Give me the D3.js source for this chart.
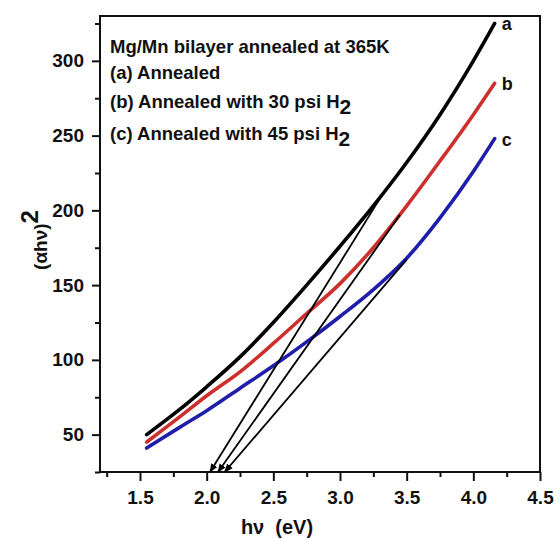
<!DOCTYPE html>
<html>
<head>
<meta charset="utf-8">
<script src="https://cdn.jsdelivr.net/npm/d3@7"></script>
<style>
body { margin: 0; background: #fff; }
text { font-family: "Liberation Sans", Arial, sans-serif; font-weight: bold; fill: #111; }
</style>
</head>
<body>
<div class="chart"></div>
<script>
var WIDTH = 560,
	HEIGHT = 539;

// photon energy (eV)
var energy = [1.55, 1.8, 2.0, 2.25, 2.5, 2.75, 3.0, 3.25, 3.5, 3.75, 4.0, 4.16];
// (alpha h nu)^2 for each sample
var seriesA = [50, 67, 82, 102, 125, 150, 176, 203, 232, 264, 300, 325];
var seriesB = [45, 62, 76, 92, 111, 131, 151, 175, 203, 233, 264, 285];
var seriesC = [41, 55, 66, 81, 96, 112, 129, 147, 168, 195, 226, 248];

// extrapolated linear fits: [start on curve, intercept on axis]
var fitA = [[3.3, 208], [2.025, 25]];
var fitB = [[3.45, 197], [2.085, 25]];
var fitC = [[3.5, 167], [2.135, 25]];

var xMajor = [1.5, 2.0, 2.5, 3.0, 3.5, 4.0, 4.5];
var xMinor = [1.25, 1.75, 2.25, 2.75, 3.25, 3.75, 4.25];
var yMajor = [50, 100, 150, 200, 250, 300];
var yMinor = [25, 75, 125, 175, 225, 275, 325];

var legendLines = [
	"Mg/Mn bilayer annealed at 365K",
	"(a) Annealed",
	"(b) Annealed with 30 psi H",
	"(c) Annealed with 45 psi H"
];

var LEFT = 100, RIGHT = 540, TOP = 16, BOTTOM = 472;

var xScale = d3.scaleLinear().domain([1.2, 4.5]).range([LEFT, RIGHT]);
var yScale = d3.scaleLinear().domain([25, 330]).range([BOTTOM, TOP]);

var svg = d3.select(".chart").append("svg")
	.attr("width", WIDTH)
	.attr("height", HEIGHT);

svg.append("defs").append("marker")
	.attr("id", "arrow")
	.attr("viewBox", "0 0 10 10")
	.attr("refX", 9)
	.attr("refY", 5)
	.attr("markerWidth", 9)
	.attr("markerHeight", 9)
	.attr("markerUnits", "userSpaceOnUse")
	.attr("orient", "auto")
	.append("path")
	.attr("d", "M0,1 L10,5 L0,9 Z")
	.attr("fill", "#000");

// axes
var xAxis = d3.axisBottom(xScale).tickValues(xMajor).tickSize(9).tickPadding(10)
	.tickFormat(d3.format(".1f"));
var xAxisMinor = d3.axisBottom(xScale).tickValues(xMinor).tickSize(5).tickFormat("");
var yAxis = d3.axisLeft(yScale).tickValues(yMajor).tickSize(8).tickPadding(8);
var yAxisMinor = d3.axisLeft(yScale).tickValues(yMinor).tickSize(5).tickFormat("");

[[xAxis, "x"], [xAxisMinor, "x"], [yAxis, "y"], [yAxisMinor, "y"]].forEach(function(a) {
	var g = svg.append("g")
		.attr("transform", a[1] == "x" ? "translate(0," + BOTTOM + ")" : "translate(" + LEFT + ",0)")
		.call(a[0]);
	g.select(".domain").remove();
	g.selectAll("line").attr("stroke", "#111").attr("stroke-width", 2);
	g.selectAll("text").style("font-size", "19px").style("font-family", "Liberation Sans, Arial, sans-serif")
		.style("font-weight", "bold").attr("fill", "#111");
});

svg.append("rect")
	.attr("x", LEFT)
	.attr("y", TOP)
	.attr("width", RIGHT - LEFT)
	.attr("height", BOTTOM - TOP)
	.attr("fill", "none")
	.attr("stroke", "#111")
	.attr("stroke-width", 2);

// curves
var line = d3.line()
	.curve(d3.curveMonotoneX)
	.x(function(d) { return xScale(d[0]); })
	.y(function(d) { return yScale(d[1]); });

var curves = [
	{ vals: seriesA, color: "#000000", fit: fitA, label: "a" },
	{ vals: seriesB, color: "#cc2f2c", fit: fitB, label: "b" },
	{ vals: seriesC, color: "#1e1eaa", fit: fitC, label: "c" }
];

curves.forEach(function(c) {
	var pts = energy.map(function(e, i) { return [e, c.vals[i]]; });
	svg.append("path")
		.attr("d", line(pts))
		.attr("fill", "none")
		.attr("stroke", c.color)
		.attr("stroke-width", 3.6)
		.attr("stroke-linecap", "round");
});

curves.forEach(function(c) {
	svg.append("line")
		.attr("x1", xScale(c.fit[0][0]))
		.attr("y1", yScale(c.fit[0][1]))
		.attr("x2", xScale(c.fit[1][0]))
		.attr("y2", yScale(c.fit[1][1]))
		.attr("stroke", "#000")
		.attr("stroke-width", 1.8)
		.attr("marker-end", "url(#arrow)");

	var last = c.vals.length - 1;
	svg.append("text")
		.attr("x", xScale(energy[last]) + 7)
		.attr("y", yScale(c.vals[last]) + 7)
		.style("font-size", "18px")
		.text(c.label);
});

// legend text
var legendY = [53, 79, 108, 140];
legendLines.forEach(function(t, i) {
	var txt = svg.append("text")
		.attr("x", 110)
		.attr("y", legendY[i])
		.style("font-size", "18.5px")
		.text(t);
	if (i >= 2) {
		txt.append("tspan")
			.attr("dy", 6)
			.style("font-size", "21px")
			.text("2");
	}
});

// axis titles
svg.append("text")
	.attr("x", 277)
	.attr("y", 534)
	.attr("text-anchor", "middle")
	.style("font-size", "20px")
	.style("white-space", "pre")
	.text("h\u03bd  (eV)");

var yTitle = svg.append("text")
	.attr("transform", "translate(47,240) rotate(-90)")
	.attr("text-anchor", "middle")
	.style("font-size", "19px");
yTitle.append("tspan").text("(\u03b1h\u03bd)");
yTitle.append("tspan").attr("dy", -9).style("font-size", "24px").text("2");
</script>
</body>
</html>
